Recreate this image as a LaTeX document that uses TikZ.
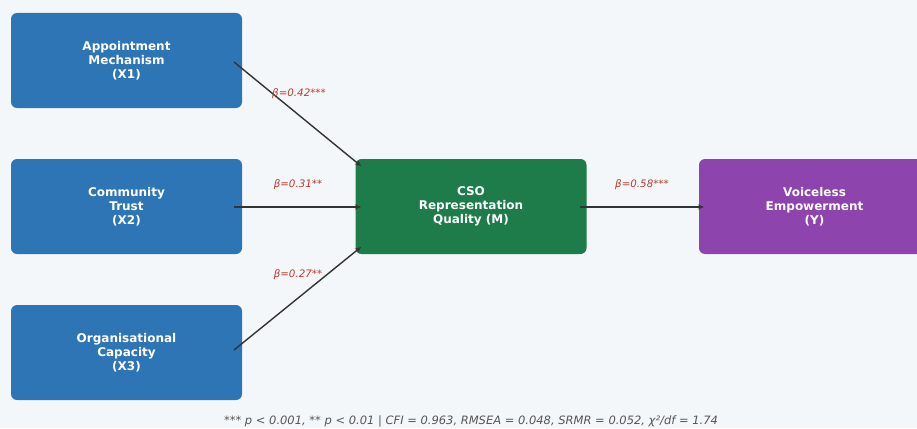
\documentclass[tikz,border=0pt]{standalone}
\usepackage{fontspec}
\setmainfont{DejaVu Sans}
\usetikzlibrary{arrows.meta}
\definecolor{bgc}{HTML}{F4F7FA}
\definecolor{xblue}{HTML}{2E75B6}
\definecolor{mgreen}{HTML}{1E7B4A}
\definecolor{ypurple}{HTML}{8E44AD}
\definecolor{lbl}{HTML}{C0392B}
\definecolor{edge}{HTML}{333333}
\definecolor{foot}{HTML}{555555}
\tikzset{
  box/.style={draw=none, rounded corners=6pt, minimum width=231pt, minimum height=95pt,
    text=white, align=center, font=\fontsize{12}{14}\selectfont\bfseries, inner sep=0pt},
  path/.style={draw=edge, line width=1.4pt, -{Stealth[length=6pt,width=5pt]}},
  coef/.style={text=lbl, font=\fontsize{10.3}{12}\selectfont\itshape},
}
\begin{document}
\begin{tikzpicture}[x=1pt,y=-1pt]
\useasboundingbox (0,0) rectangle (917,428);
\clip (0,0) rectangle (917,428);
\fill[bgc] (0,0) rectangle (917,428);
\node[box, fill=xblue] (x1) at (126.5,60.5) {Appointment\\Mechanism\\(X1)};
\node[box, fill=xblue] (x2) at (126.5,206.5) {Community\\Trust\\(X2)};
\node[box, fill=xblue] (x3) at (126.5,352.5) {Organisational\\Capacity\\(X3)};
\node[box, fill=mgreen] (m) at (471,206.5) {CSO\\Representation\\Quality (M)};
\node[box, fill=ypurple] (y) at (814.5,206.5) {Voiceless\\Empowerment\\(Y)};
\coordinate (s1) at (234,62);
\coordinate (s2) at (234,207);
\coordinate (s3) at (234,350);
\coordinate (e1) at (361,166);
\coordinate (e2) at (361,207);
\coordinate (e3) at (361,247);
\coordinate (s4) at (580,207);
\coordinate (e4) at (704,207);
\draw[path] (s1) -- (e1);
\draw[path] (s2) -- (e2);
\draw[path] (s3) -- (e3);
\draw[path] (s4) -- (e4);
\node[coef] (c1) at (299,94) {β=0.42***};
\node[coef] (c2) at (298,185) {β=0.31**};
\node[coef] (c3) at (298,275) {β=0.27**};
\node[coef] (c4) at (642,185) {β=0.58***};
\node[text=foot, font=\fontsize{11.5}{13}\selectfont\itshape] (ft) at (471,421)
  {*** p < 0.001, ** p < 0.01 | CFI = 0.963, RMSEA = 0.048, SRMR = 0.052, χ²/df = 1.74};
\end{tikzpicture}
\end{document}
